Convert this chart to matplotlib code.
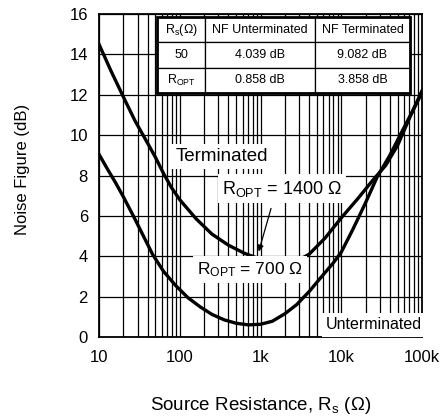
import numpy as np
import matplotlib
matplotlib.use("Agg")
import matplotlib.pyplot as plt
from matplotlib.patches import Rectangle

plt.rcParams['font.family'] = ['Liberation Sans', 'DejaVu Sans']
plt.rcParams['mathtext.default'] = 'regular'

# ---------------------------------------------------------------------------
# Data
# ---------------------------------------------------------------------------
rs_term = [10, 14, 20, 28, 40, 50, 63, 79, 100, 160, 250, 400, 630, 1000,
           1400, 2000, 2800, 4000, 6300, 10000, 16000, 25000, 35500,
           50000, 71000, 100000]
nf_term = [14.5, 13.2, 11.9, 10.7, 9.6, 8.9, 8.1, 7.4, 6.8, 5.85, 5.1,
           4.55, 4.15, 3.85, 3.72, 3.68, 3.75, 4.1, 4.9, 5.9, 6.85, 7.8,
           8.5, 9.5, 10.9, 12.2]

rs_unterm = [10, 12.6, 16, 20, 27, 35.5, 46, 63, 89, 126, 178, 250, 355,
             500, 710, 1000, 1400, 2000, 2800, 4000, 5600, 7900, 10000,
             14000, 20000, 28000, 40000, 56000, 79000, 100000]
nf_unterm = [9.05, 8.35, 7.65, 6.95, 5.95, 5.0, 4.1, 3.25, 2.55, 1.95,
             1.5, 1.12, 0.85, 0.68, 0.6, 0.63, 0.78, 1.15, 1.6, 2.25, 2.95,
             3.65, 4.2, 5.35, 6.65, 7.95, 9.0, 10.15, 11.3, 12.1]

x_ticks = [10, 100, 1000, 10000, 100000]
x_tick_labels = ['10', '100', '1k', '10k', '100k']
y_ticks = [0, 2, 4, 6, 8, 10, 12, 14, 16]

table_rows = [
    [r'R$_s$(Ω)', 'NF Unterminated', 'NF Terminated'],
    ['50', '4.039 dB', '9.082 dB'],
    [r'R$_{OPT}$', '0.858 dB', '3.858 dB'],
]

# ---------------------------------------------------------------------------
fig = plt.figure(figsize=(4.43, 4.18), dpi=100)
ax = fig.add_axes([99 / 443, 1 - 337 / 418, 323 / 443, 323 / 418])

ax.set_xscale('log')
ax.set_xlim(10, 100000)
ax.set_ylim(0, 16)
ax.set_xticks(x_ticks)
ax.set_xticklabels(x_tick_labels)
ax.set_yticks(y_ticks)
ax.tick_params(which='both', length=0, labelsize=12, pad=8)
ax.tick_params(axis='x', pad=9)

ax.grid(True, which='major', color='black', lw=0.9)
ax.grid(True, which='minor', axis='x', color='black', lw=0.9)
for s in ax.spines.values():
    s.set_linewidth(1.3)

ax.plot(rs_term, nf_term, color='black', lw=2.4, zorder=3)
ax.plot(rs_unterm, nf_unterm, color='black', lw=2.4, zorder=3)

ax.set_ylabel('Noise Figure (dB)', fontsize=12)
ax.yaxis.set_label_coords(-0.215, 0.52)
ax.set_xlabel('Source Resistance, R$_s$ (Ω)', fontsize=13.5)
ax.xaxis.set_label_coords(0.5, -0.18)

box = dict(facecolor='white', edgecolor='none', pad=3)
ax.text(330, 8.95, 'Terminated', fontsize=13.5, ha='center', va='center',
        bbox=box, zorder=4)
ax.text(25400, 0.6, 'Unterminated', fontsize=11.5, ha='center',
        va='center', bbox=box, zorder=4)
ax.text(1850, 7.35, r'R$_{OPT}$ = 1400 Ω', fontsize=13, ha='center',
        va='center', bbox=box, zorder=4)
ax.text(740, 3.35, r'R$_{OPT}$ = 700 Ω', fontsize=12.5, ha='center',
        va='center', bbox=box, zorder=4)
ax.annotate('', xy=(930, 4.1), xytext=(1380, 6.5),
            arrowprops=dict(arrowstyle='-|>', color='black', lw=0.9,
                            mutation_scale=9), zorder=5)

# table in the upper right corner
tx0, tx1 = (157 - 99) / 323, (410 - 99) / 323
ty0, ty1 = 1 - (93 - 14) / 323, 1 - (17 - 14) / 323
tbl = ax.table(cellText=table_rows, cellLoc='center',
               colWidths=[48, 110, 95],
               bbox=[tx0, ty0, tx1 - tx0, ty1 - ty0], zorder=6)
tbl.auto_set_font_size(False)
tbl.set_fontsize(9)
for cell in tbl.get_celld().values():
    cell.set_facecolor('white')
    cell.set_linewidth(0.9)
ax.add_patch(Rectangle((tx0, ty0), tx1 - tx0, ty1 - ty0,
                       transform=ax.transAxes, fill=False, lw=2,
                       edgecolor='black', zorder=7))

fig.savefig('out.png', dpi=100)
